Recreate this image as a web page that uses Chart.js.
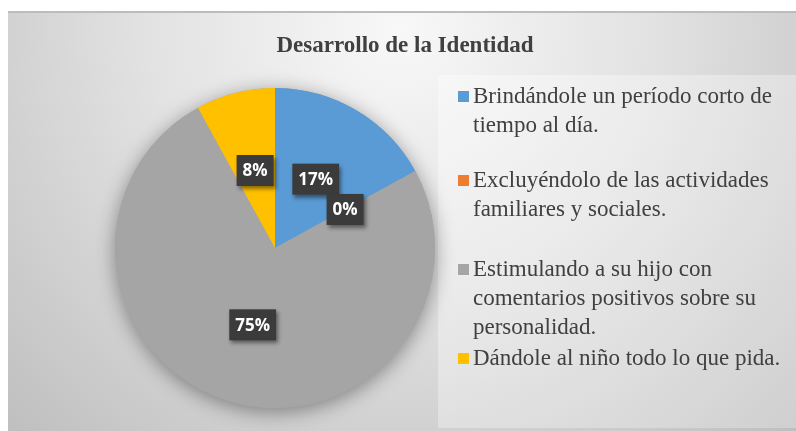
<!DOCTYPE html>
<html>
<head>
<meta charset="utf-8">
<script src="https://cdn.jsdelivr.net/npm/chart.js@4.4.1/dist/chart.umd.min.js"></script>
<style>
  html, body { margin: 0; padding: 0; background: #ffffff; }
  #wrap { position: absolute; left: 0; top: 0; width: 796px; height: 431px; }
</style>
</head>
<body>
<div id="wrap"><canvas id="c" width="796" height="431"></canvas></div>
<script>
// ---- data ----
const chartTitle = "Desarrollo de la Identidad";
const categories = [
  "Brindándole un período corto de tiempo al día.",
  "Excluyéndolo de las actividades familiares y sociales.",
  "Estimulando a su hijo con comentarios positivos sobre su personalidad.",
  "Dándole al niño todo lo que pida."
];
const percentages = [17, 0, 75, 8];
const sliceColors = ["#5B9BD5", "#ED7D31", "#A5A5A5", "#FFC000"];

// ---- layout (not data) ----
const legendBaselines = [103, 187, 276, 365];
const legendLineHeight = 29;
const legendX = 473;
const legendWrap = 325;

const backgroundPlugin = {
  id: 'bg',
  beforeDraw(chart) {
    const ctx = chart.ctx;
    ctx.save();
    ctx.fillStyle = '#ffffff';
    ctx.fillRect(0, 0, chart.width, chart.height);
    const g = ctx.createRadialGradient(400, 30, 0, 400, 30, 560);
    g.addColorStop(0, '#f8f8f8');
    g.addColorStop(0.45, '#e2e2e2');
    g.addColorStop(1, '#bfbfbf');
    ctx.fillStyle = g;
    ctx.fillRect(8, 11, 788, 420);
    ctx.fillStyle = '#bcbcbc';
    ctx.fillRect(8, 11, 788, 2);
    // legend panel
    const lg = ctx.createLinearGradient(438, 75, 796, 428);
    lg.addColorStop(0, 'rgba(255,255,255,0.38)');
    lg.addColorStop(1, 'rgba(255,255,255,0.25)');
    ctx.fillStyle = lg;
    ctx.fillRect(438, 75, 358, 353);
    // title
    ctx.fillStyle = '#404040';
    ctx.font = 'bold 23px "Liberation Serif", "Times New Roman", serif';
    ctx.textAlign = 'center';
    ctx.textBaseline = 'alphabetic';
    ctx.fillText(chartTitle, 405, 52);
    ctx.restore();
  }
};

const shadowPlugin = {
  id: 'pieShadow',
  beforeDatasetsDraw(chart) {
    const arc = chart.getDatasetMeta(0).data[0];
    if (!arc) return;
    const ctx = chart.ctx;
    ctx.save();
    ctx.shadowColor = 'rgba(0,0,0,0.40)';
    ctx.shadowBlur = 20;
    ctx.shadowOffsetY = 4;
    ctx.fillStyle = '#a5a5a5';
    ctx.beginPath();
    ctx.arc(arc.x, arc.y, arc.outerRadius, 0, Math.PI * 2);
    ctx.fill();
    ctx.restore();
  }
};

const labelPlugin = {
  id: 'sliceLabels',
  afterDatasetsDraw(chart) {
    const ctx = chart.ctx;
    const meta = chart.getDatasetMeta(0);
    const vals = chart.data.datasets[0].data;
    ctx.save();
    ctx.font = 'bold 17px "Open Sans", "DejaVu Sans", sans-serif';
    ctx.textAlign = 'center';
    ctx.textBaseline = 'middle';
    meta.data.forEach((arc, i) => {
      const p = arc.getCenterPoint();
      const txt = vals[i] + '%';
      const w = ctx.measureText(txt).width + 12;
      const h = 31;
      ctx.save();
      ctx.shadowColor = 'rgba(0,0,0,0.45)';
      ctx.shadowBlur = 4;
      ctx.shadowOffsetX = 2;
      ctx.shadowOffsetY = 3;
      ctx.fillStyle = '#3b3b3b';
      ctx.fillRect(p.x - w / 2, p.y - h / 2, w, h);
      ctx.restore();
      ctx.fillStyle = '#ffffff';
      ctx.fillText(txt, p.x, p.y + 1);
    });
    ctx.restore();
  }
};

function wrapText(ctx, text, maxW) {
  const words = text.split(' ');
  const lines = [];
  let cur = '';
  words.forEach(wd => {
    const test = cur ? cur + ' ' + wd : wd;
    if (ctx.measureText(test).width > maxW && cur) {
      lines.push(cur);
      cur = wd;
    } else {
      cur = test;
    }
  });
  if (cur) lines.push(cur);
  return lines;
}

const legendPlugin = {
  id: 'wrapLegend',
  afterDraw(chart) {
    const ctx = chart.ctx;
    const labels = chart.data.labels;
    const colors = chart.data.datasets[0].backgroundColor;
    ctx.save();
    ctx.font = '23px "Liberation Serif", "Times New Roman", serif';
    ctx.textAlign = 'left';
    ctx.textBaseline = 'alphabetic';
    labels.forEach((lab, i) => {
      const y0 = legendBaselines[i];
      ctx.fillStyle = colors[i];
      ctx.fillRect(458, y0 - 12, 11, 11);
      ctx.fillStyle = '#404040';
      const lines = wrapText(ctx, lab, legendWrap);
      lines.forEach((ln, j) => {
        ctx.fillText(ln, legendX, y0 + j * legendLineHeight);
      });
    });
    ctx.restore();
  }
};

new Chart(document.getElementById('c'), {
  type: 'pie',
  data: {
    labels: categories,
    datasets: [{
      data: percentages,
      backgroundColor: sliceColors,
      borderWidth: 0
    }]
  },
  options: {
    responsive: false,
    animation: false,
    layout: { padding: { left: 115, right: 361, top: 88, bottom: 23 } },
    plugins: {
      legend: { display: false },
      title: { display: false },
      tooltip: { enabled: false }
    }
  },
  plugins: [backgroundPlugin, shadowPlugin, labelPlugin, legendPlugin]
});
</script>
</body>
</html>
